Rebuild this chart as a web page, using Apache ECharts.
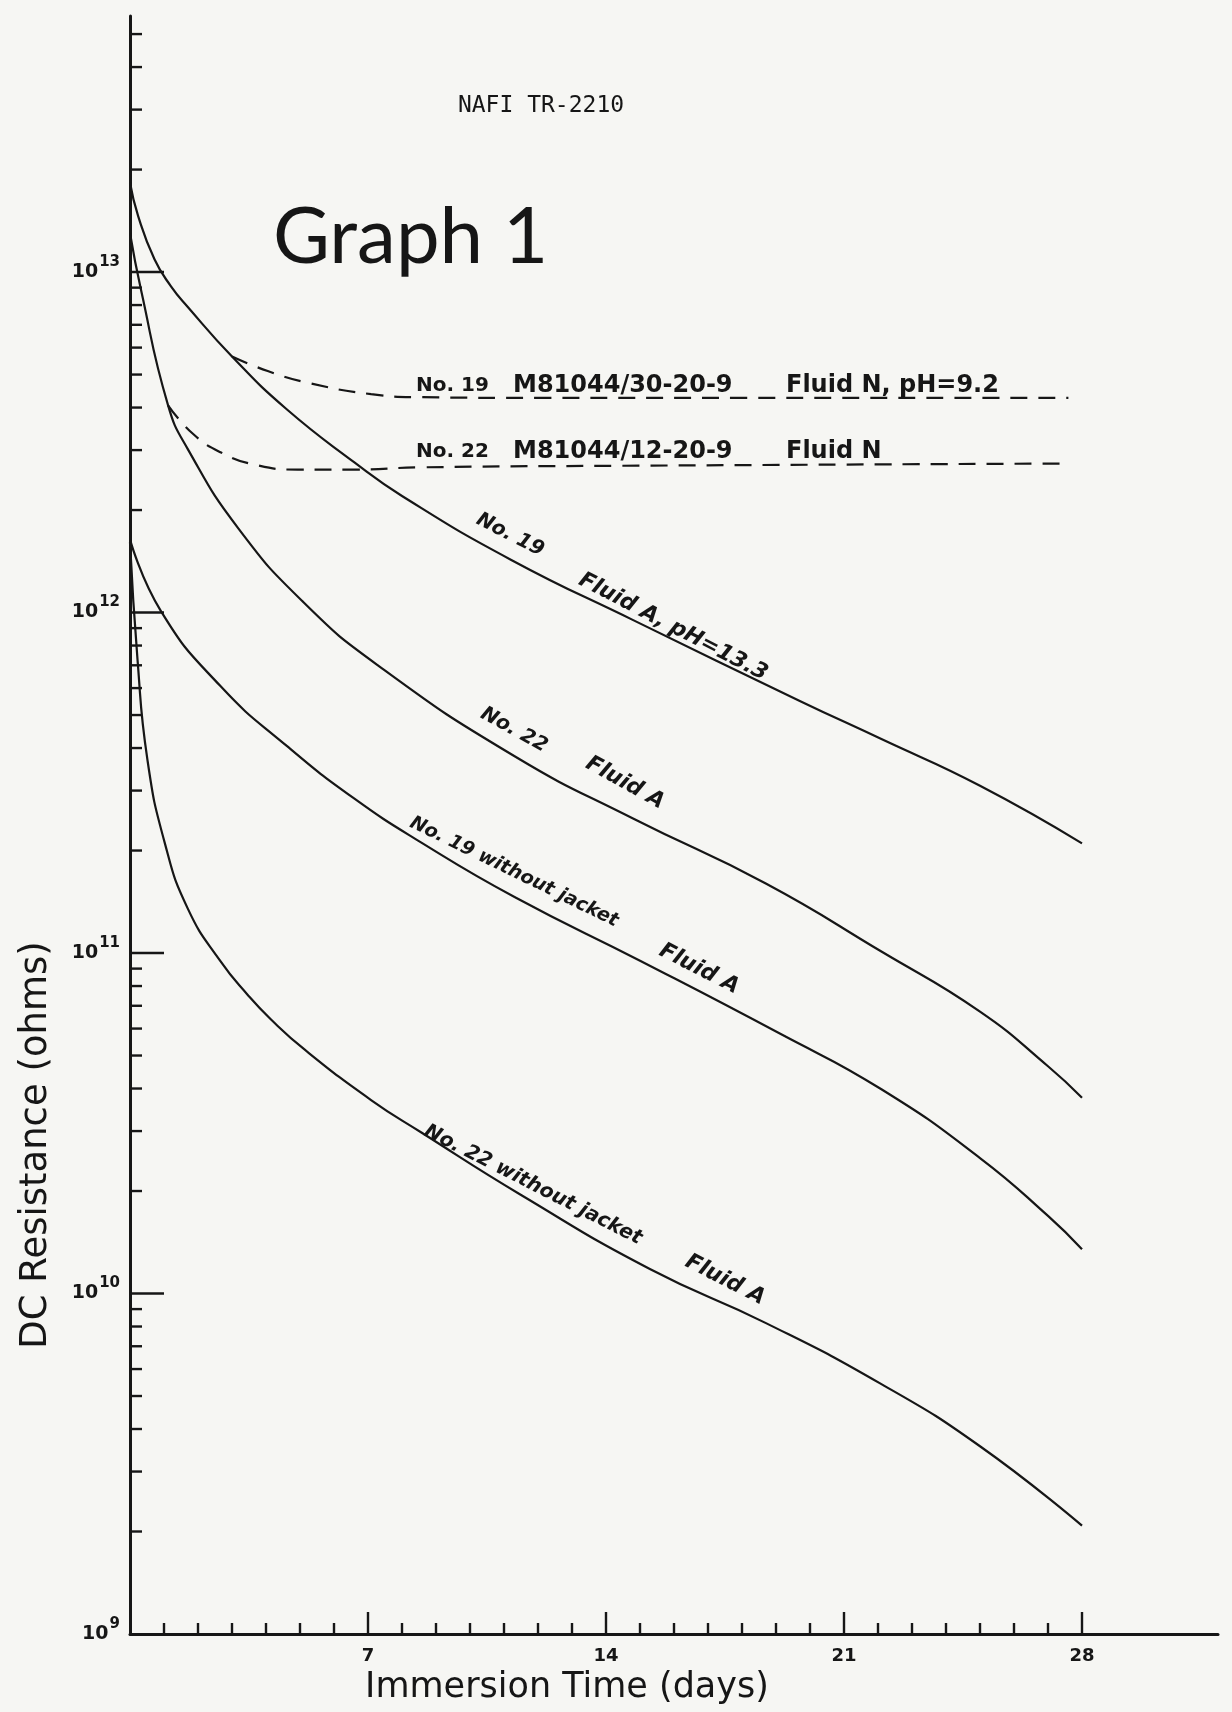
<!DOCTYPE html>
<html><head><meta charset="utf-8">
<script src="https://cdn.jsdelivr.net/npm/echarts@6/dist/echarts.min.js"></script>
<style>html,body{margin:0;padding:0;background:#f6f6f3;}#c{width:1232px;height:1712px;}</style>
</head><body><div id="c"></div>
<script>
// ---------- data ----------
const xTickLabels = [7, 14, 21, 28];
const xMajorTickDays = [7, 14, 21, 28];
const xMinorTickDays = [1,2,3,4,5,6, 8,9,10,11,12,13, 15,16,17,18,19,20, 22,23,24,25,26,27];
const yDecades = [1e10, 1e11, 1e12, 1e13];
const yMinorDecadeBases = [1e9, 1e10, 1e11, 1e12, 1e13];
const yMinorMultipliers = [2, 3, 4, 5, 6, 7, 8, 9];
const yAxisMin = 1e9, yAxisMax = 5.65e13;

const no19FluidA_days = [0, 0.24, 0.72, 1.2, 1.7, 3.0, 4.6, 6.6, 8.0, 11.2, 14.8, 19.7, 22.1, 25.0, 28];
const no19FluidA_vals = [1.83e13, 1.46e13, 1.09e13, 9.1e12, 7.9e12, 5.65e12, 3.96e12, 2.76e12, 2.2e12, 1.43e12, 9.5e11, 5.5e11, 4.25e11, 3.1e11, 2.1e11];

const no22FluidA_days = [0, 0.32, 1.12, 1.7, 3.18, 5.11, 7.29, 11.3, 14.84, 18.7, 22.1, 25.0, 27.0, 28];
const no22FluidA_vals = [1.3e13, 8.9e12, 4.06e12, 3.02e12, 1.77e12, 1.07e12, 7.0e11, 3.79e11, 2.47e11, 1.6e11, 1.01e11, 6.73e10, 4.65e10, 3.76e10];

const no19NoJacket_days = [0, 0.91, 2.66, 4.62, 6.58, 8.57, 11.31, 15.03, 19.14, 22.1, 25.0, 27.0, 28];
const no19NoJacket_vals = [1.64e12, 1.01e12, 6.08e11, 4.05e11, 2.85e11, 2.11e11, 1.46e11, 9.46e10, 5.78e10, 3.98e10, 2.5e10, 1.69e10, 1.35e10];

const no22NoJacket_days = [0, 0.22, 0.51, 1.02, 1.7, 2.66, 3.47, 4.14, 5.14, 7.09, 8.57, 11.49, 15.29, 18.69, 22.1, 25.0, 28];
const no22NoJacket_vals = [1.61e12, 7.3e11, 3.71e11, 2.11e11, 1.35e11, 9.46e10, 7.52e10, 6.39e10, 5.2e10, 3.7e10, 2.97e10, 1.95e10, 1.18e10, 8.2e9, 5.42e9, 3.56e9, 2.08e9];

const no19FluidN_days = [3.0, 4.05, 5.23, 7.09, 8.57, 12, 18, 27.6];
const no19FluidN_vals = [5.65e12, 5.12e12, 4.73e12, 4.38e12, 4.29e12, 4.27e12, 4.27e12, 4.27e12];

const no22FluidN_days = [1.12, 1.85, 2.68, 3.66, 4.93, 6.58, 8.57, 15, 27.6];
const no22FluidN_vals = [4.06e12, 3.35e12, 2.95e12, 2.72e12, 2.63e12, 2.63e12, 2.67e12, 2.7e12, 2.74e12];

// ---------- build ----------
const INK = '#161616';
const zip = (a, b) => a.map((d, i) => [d, b[i]]);

const tickData = [];
yDecades.forEach(v => tickData.push([0, v, 34, 0]));
yMinorDecadeBases.forEach(b => yMinorMultipliers.forEach(m => {
  if (b * m <= yAxisMax) tickData.push([0, b * m, 12, 0]);
}));
xMajorTickDays.forEach(d => tickData.push([d, yAxisMin, 22, 1]));
xMinorTickDays.forEach(d => tickData.push([d, yAxisMin, 11, 1]));

function solid(name, days, vals) {
  return { name, type: 'line', data: zip(days, vals), symbol: 'none', smooth: 0.5,
    lineStyle: { color: INK, width: 2.2 }, z: 3, silent: true };
}
function dashed(name, days, vals) {
  return { name, type: 'line', data: zip(days, vals), symbol: 'none', smooth: 0.5,
    lineStyle: { color: INK, width: 2.2, type: [17, 11] }, z: 3, silent: true };
}

const deg = Math.PI / 180;
const annFont = 'bold italic 22px "DejaVu Sans"';
function txt(text, x, y, font, rot, align) {
  return { type: 'text', x, y, rotation: (rot || 0) * deg, silent: true,
    style: { text, x: 0, y: 0, font, fill: INK, align: align || 'center', verticalAlign: 'middle',
      textAlign: align || 'center', textVerticalAlign: 'middle' } };
}

const chart = echarts.init(document.getElementById('c'), null, { renderer: 'canvas' });
const option = {
  animation: false,
  backgroundColor: '#f6f6f3',
  grid: { left: 130, right: 14, top: 16, bottom: 78, containLabel: false },
  xAxis: {
    type: 'value', min: 0, max: 32, interval: 7,
    axisLine: { show: true, onZero: false, lineStyle: { color: INK, width: 3 } },
    axisTick: { show: false }, splitLine: { show: false },
    axisLabel: {
      margin: 13, color: INK, fontSize: 18, fontWeight: 'bold', fontFamily: 'DejaVu Sans',
      formatter: v => (xTickLabels.indexOf(v) >= 0 ? String(v) : '')
    }
  },
  yAxis: {
    type: 'log', logBase: 10, min: yAxisMin, max: yAxisMax,
    axisLine: { show: true, lineStyle: { color: INK, width: 3 } },
    axisTick: { show: false }, splitLine: { show: false },
    axisLabel: {
      margin: 10,
      formatter: v => {
        const l = Math.log10(v), e = Math.round(l);
        if (Math.abs(l - e) > 1e-6) return '';
        return '{b|10}{s|' + e + '}';
      },
      rich: {
        b: { fontSize: 19, fontWeight: 'bold', fontFamily: 'DejaVu Sans', color: INK },
        s: { fontSize: 15, fontWeight: 'bold', fontFamily: 'DejaVu Sans', color: INK, padding: [0, 0, 20, 1] }
      }
    }
  },
  series: [
    solid('No. 19 Fluid A, pH=13.3', no19FluidA_days, no19FluidA_vals),
    solid('No. 22 Fluid A', no22FluidA_days, no22FluidA_vals),
    solid('No. 19 without jacket Fluid A', no19NoJacket_days, no19NoJacket_vals),
    solid('No. 22 without jacket Fluid A', no22NoJacket_days, no22NoJacket_vals),
    dashed('No. 19 M81044/30-20-9 Fluid N, pH=9.2', no19FluidN_days, no19FluidN_vals),
    dashed('No. 22 M81044/12-20-9 Fluid N', no22FluidN_days, no22FluidN_vals),
    {
      name: 'ticks', type: 'custom', data: tickData, silent: true, z: 4, clip: false,
      encode: { x: 0, y: 1 },
      renderItem: (params, api) => {
        const p = api.coord([api.value(0), api.value(1)]);
        const len = api.value(2), dir = api.value(3);
        const shape = dir === 0
          ? { x1: p[0], y1: p[1], x2: p[0] + len, y2: p[1] }
          : { x1: p[0], y1: p[1], x2: p[0], y2: p[1] - len };
        return { type: 'line', shape, style: { stroke: INK, lineWidth: 2.4 } };
      }
    }
  ],
  graphic: [
    txt('NAFI TR-2210', 541, 106, '23px "DejaVu Sans Mono"'),
    txt('Graph 1', 273, 238, '78px Lato', 0, 'left'),
    txt('DC Resistance (ohms)', 36, 1145, '37px "DejaVu Sans"', 90),
    txt('Immersion Time (days)', 567, 1688, '35px "DejaVu Sans"'),
    // dashed-line labels
    txt('No. 19', 416, 386, 'bold 20px "DejaVu Sans"', 0, 'left'),
    txt('M81044/30-20-9', 513, 386, 'bold 24px "DejaVu Sans"', 0, 'left'),
    txt('Fluid N, pH=9.2', 786, 386, 'bold 24px "DejaVu Sans"', 0, 'left'),
    txt('No. 22', 416, 452, 'bold 20px "DejaVu Sans"', 0, 'left'),
    txt('M81044/12-20-9', 513, 452, 'bold 24px "DejaVu Sans"', 0, 'left'),
    txt('Fluid N', 786, 452, 'bold 24px "DejaVu Sans"', 0, 'left'),
    // curve labels
    txt('No. 19', 510, 535, 'bold italic 20px "DejaVu Sans"', -27),
    txt('Fluid A, pH=13.3', 673, 627, annFont, -27.5),
    txt('No. 22', 514, 730, 'bold italic 20px "DejaVu Sans"', -29),
    txt('Fluid A', 625, 783, annFont, -29),
    txt('No. 19 without jacket', 514, 872, 'bold italic 19px "DejaVu Sans"', -26),
    txt('Fluid A', 699, 969, annFont, -27),
    txt('No. 22 without jacket', 533, 1185, 'bold italic 20px "DejaVu Sans"', -27),
    txt('Fluid A', 725, 1280, annFont, -27)
  ]
};
chart.setOption(option);
</script>
</body></html>
